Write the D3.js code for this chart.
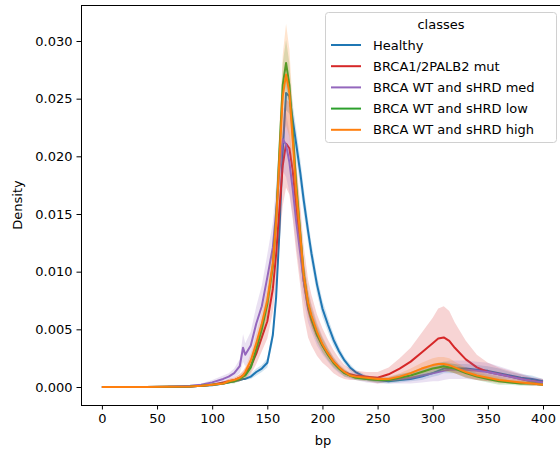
<!DOCTYPE html>
<html>
<head>
<meta charset="utf-8">
<script src="https://cdn.jsdelivr.net/npm/d3@7"></script>
<style>
  body { margin: 0; background: #fff; }
  text { font-family: "DejaVu Sans", sans-serif; }
</style>
</head>
<body>
<div id="chart"></div>
<script>
var svgWidth = 560;
var svgHeight = 450;

// fragment length (bp) sample positions
var bp = [0,20,40,60,80,90,100,110,115,120,125,128,130,135,140,145,150,155,158,
  161,164,167,170,173,176,180,183,187,190,195,200,205,210,215,220,225,230,
  240,250,260,270,280,290,300,305,310,315,320,330,340,350,360,370,380,390,400];

var classes = ["Healthy", "BRCA1/2PALB2 mut", "BRCA WT and sHRD med",
  "BRCA WT and sHRD low", "BRCA WT and sHRD high"];
var colors = ["#1f77b4", "#d62728", "#9467bd", "#2ca02c", "#ff7f0e"];

var healthy = [0,0,0.00001,0.00002,0.00005,0.0001,0.00015,
  0.0003,0.0004,0.0005,0.0006,0.0007,0.0007,0.0009,0.0013,0.0016,0.0021,0.0045,0.0078,
  0.0135,0.0205,0.0255,0.0252,0.0232,0.0212,0.0185,0.0162,0.0135,0.0116,0.0089,0.0068,
  0.0054,0.0041,0.0031,0.0023,0.0017,0.0013,0.0008,0.0006,0.0005,0.0006,0.0007,0.0009,
  0.0012,0.0014,0.0016,0.0016,0.0016,0.0016,0.0015,0.0014,0.0012,0.001,0.0008,0.0007,0.0005];
var healthyCI = [0,0,0,0,0,0,0.00005,
  0.0001,0.0001,0.0001,0.0001,0.0001,0.0001,0.0002,0.0003,0.0003,0.0004,0.0006,0.0008,
  0.001,0.0013,0.0015,0.0015,0.0014,0.0013,0.0012,0.0011,0.001,0.0009,0.0008,0.0007,
  0.0006,0.0005,0.0004,0.0003,0.0003,0.0002,0.0002,0.0002,0.0002,0.0002,0.0002,0.0003,
  0.0003,0.0004,0.0004,0.0004,0.0004,0.0004,0.0004,0.0004,0.0004,0.0003,0.0003,0.0003,0.0002];

var brcaMut = [0,0,0,0.00002,0.00005,0.0001,0.0002,
  0.0004,0.0005,0.0006,0.0008,0.001,0.0012,0.0018,0.0029,0.0043,0.0057,0.0085,0.0115,
  0.0155,0.0192,0.0211,0.0207,0.0188,0.0158,0.0122,0.0092,0.0068,0.0058,0.0045,0.0036,
  0.0029,0.0022,0.0017,0.0013,0.0011,0.001,0.0009,0.0008,0.0011,0.0016,0.0022,0.003,
  0.0038,0.0042,0.0043,0.004,0.0034,0.0024,0.0017,0.0013,0.0011,0.0009,0.0007,0.0005,0.0004];
var brcaMutCI = [0,0,0,0,0,0.00005,0.0001,
  0.0001,0.0002,0.0002,0.0003,0.0004,0.0005,0.0007,0.0009,0.0012,0.0015,0.002,0.0025,
  0.003,0.0035,0.0038,0.004,0.0042,0.004,0.0035,0.003,0.0025,0.0022,0.0018,0.0015,
  0.0012,0.001,0.0008,0.0006,0.0005,0.0004,0.0004,0.0005,0.0006,0.0009,0.0012,0.0017,
  0.0022,0.0026,0.0027,0.0026,0.0022,0.0016,0.0011,0.0008,0.0006,0.0005,0.0004,0.0003,0.0003];

var hrdMed = [0,0,0.00001,0.00003,0.0001,0.0002,0.0004,
  0.0007,0.0009,0.0012,0.0018,0.0034,0.0028,0.0036,0.0055,0.007,0.0095,0.0121,0.0152,
  0.0188,0.0215,0.021,0.0195,0.0172,0.0145,0.0115,0.0092,0.007,0.006,0.0046,0.0036,
  0.0028,0.0021,0.0016,0.0012,0.001,0.0009,0.0007,0.0006,0.0006,0.0007,0.0008,0.001,
  0.0012,0.0013,0.0014,0.0015,0.0015,0.0015,0.0014,0.0013,0.0011,0.0009,0.0007,0.0005,0.0004];
var hrdMedCI = [0,0,0,0,0.00005,0.0001,0.0002,
  0.0003,0.0003,0.0004,0.0006,0.0012,0.001,0.0012,0.0015,0.0018,0.002,0.0022,0.0024,
  0.0026,0.0028,0.0028,0.0026,0.0024,0.0022,0.002,0.0017,0.0014,0.0012,0.001,0.0008,
  0.0006,0.0005,0.0004,0.0003,0.0003,0.0003,0.0003,0.0003,0.0003,0.0004,0.0005,0.0006,
  0.0007,0.0008,0.0008,0.0008,0.0008,0.0008,0.0008,0.0008,0.0007,0.0006,0.0005,0.0004,0.0003];

var hrdLow = [0,0,0,0.00002,0.00005,0.0001,0.0002,
  0.0003,0.0004,0.0005,0.0007,0.0009,0.001,0.0017,0.0033,0.005,0.0072,0.0105,0.0145,
  0.0205,0.0262,0.0281,0.0262,0.0222,0.0178,0.0132,0.0098,0.0072,0.006,0.0046,0.0036,
  0.0028,0.0021,0.0016,0.0012,0.001,0.0008,0.0007,0.0006,0.0006,0.0008,0.001,0.0013,
  0.0016,0.0017,0.0018,0.0017,0.0016,0.0012,0.0009,0.0007,0.0005,0.0004,0.0003,0.0003,0.0002];
var hrdLowCI = [0,0,0,0,0,0.00005,0.0001,
  0.0001,0.0001,0.0002,0.0002,0.0003,0.0003,0.0004,0.0006,0.0008,0.001,0.0012,0.0014,
  0.0016,0.0019,0.002,0.0019,0.0017,0.0015,0.0013,0.0011,0.0009,0.0008,0.0007,0.0006,
  0.0005,0.0004,0.0003,0.0003,0.0002,0.0002,0.0002,0.0002,0.0002,0.0003,0.0003,0.0004,
  0.0004,0.0004,0.0004,0.0004,0.0004,0.0004,0.0003,0.0003,0.0003,0.0002,0.0002,0.0002,0.0001];

var hrdHigh = [0,0,0,0.00002,0.00005,0.0001,0.0002,
  0.0003,0.0005,0.0006,0.0008,0.001,0.0013,0.0023,0.0038,0.0055,0.0075,0.0107,0.0142,
  0.0198,0.0252,0.0271,0.0255,0.0215,0.0172,0.013,0.0097,0.0073,0.0062,0.0048,0.0037,
  0.0029,0.0022,0.0017,0.0013,0.001,0.0009,0.0008,0.0007,0.0007,0.0009,0.0012,0.0016,
  0.0019,0.002,0.002,0.0019,0.0017,0.0013,0.001,0.0008,0.0006,0.0005,0.0004,0.0003,0.0002];
var hrdHighCI = [0,0,0,0,0,0.00005,0.0001,
  0.0001,0.0002,0.0002,0.0003,0.0003,0.0004,0.0006,0.0008,0.001,0.0013,0.0017,0.0022,
  0.0028,0.0036,0.0044,0.0038,0.003,0.0024,0.0018,0.0014,0.0011,0.0009,0.0007,0.0006,
  0.0005,0.0004,0.0003,0.0003,0.0002,0.0002,0.0002,0.0002,0.0002,0.0003,0.0004,0.0005,
  0.0006,0.0006,0.0006,0.0006,0.0005,0.0004,0.0004,0.0003,0.0003,0.0002,0.0002,0.0002,0.0001];

var means = [healthy, brcaMut, hrdMed, hrdLow, hrdHigh];
var cis = [healthyCI, brcaMutCI, hrdMedCI, hrdLowCI, hrdHighCI];

var xTicks = [0, 50, 100, 150, 200, 250, 300, 350, 400];
var yTicks = [0, 0.005, 0.010, 0.015, 0.020, 0.025, 0.030];

var margin = { top: 5, left: 81, right: 0, bottom: 45 };
var plotRight = 565;
var plotBottom = svgHeight - margin.bottom;

var svg = d3.select("#chart")
  .append("svg")
  .attr("width", svgWidth)
  .attr("height", svgHeight);

var xScale = d3.scaleLinear()
  .domain([-18.95, 419.95])
  .range([margin.left, plotRight]);

var yScale = d3.scaleLinear()
  .domain([-0.00156, 0.03312])
  .range([plotBottom, margin.top]);

var plot = svg.append("g");

// confidence bands first, then lines (seaborn draws band + line per hue)
means.forEach(function(m, i) {
  var rows = bp.map(function(b, j) { return { x: b, y: m[j], ci: cis[i][j] }; });

  var area = d3.area()
    .x(d => xScale(d.x))
    .y0(d => yScale(Math.max(0, d.y - d.ci)))
    .y1(d => yScale(d.y + d.ci));

  plot.append("path")
    .datum(rows)
    .attr("d", area)
    .attr("fill", colors[i])
    .attr("fill-opacity", 0.2)
    .attr("stroke", "none");

  var line = d3.line()
    .x(d => xScale(d.x))
    .y(d => yScale(d.y));

  plot.append("path")
    .datum(rows)
    .attr("d", line)
    .attr("fill", "none")
    .attr("stroke", colors[i])
    .attr("stroke-width", 2)
    .attr("stroke-linejoin", "round");
});

// axes
var bottomAxis = d3.axisBottom(xScale)
  .tickValues(xTicks)
  .tickSize(4.5)
  .tickPadding(4)
  .tickFormat(d3.format("d"));

var leftAxis = d3.axisLeft(yScale)
  .tickValues(yTicks)
  .tickSize(4.5)
  .tickPadding(4)
  .tickFormat(d3.format(".3f"));

var xAxis = svg.append("g")
  .attr("transform", `translate(0, ${plotBottom})`)
  .call(bottomAxis);

var yAxis = svg.append("g")
  .attr("transform", `translate(${margin.left}, 0)`)
  .call(leftAxis);

[xAxis, yAxis].forEach(function(ax) {
  ax.select(".domain").remove();
  ax.selectAll("text")
    .attr("font-size", 13)
    .attr("font-family", "DejaVu Sans, sans-serif")
    .attr("fill", "#000");
  ax.selectAll("line").attr("stroke", "#000").attr("stroke-width", 1);
});

// frame
svg.append("rect")
  .attr("x", margin.left + 0.5)
  .attr("y", margin.top + 0.5)
  .attr("width", plotRight - margin.left)
  .attr("height", plotBottom - margin.top)
  .attr("fill", "none")
  .attr("stroke", "#000")
  .attr("stroke-width", 1);

svg.append("text")
  .attr("x", (margin.left + plotRight) / 2)
  .attr("y", 445)
  .attr("text-anchor", "middle")
  .attr("font-size", 13)
  .text("bp");

svg.append("text")
  .attr("transform", `translate(22, ${(margin.top + plotBottom) / 2}) rotate(-90)`)
  .attr("text-anchor", "middle")
  .attr("font-size", 13)
  .text("Density");

// legend
var legend = svg.append("g");

legend.append("rect")
  .attr("x", 325.5)
  .attr("y", 12.5)
  .attr("width", 231)
  .attr("height", 130)
  .attr("rx", 3)
  .attr("fill", "#fff")
  .attr("fill-opacity", 0.8)
  .attr("stroke", "#d0d0d0")
  .attr("stroke-width", 1);

legend.append("text")
  .attr("x", 441)
  .attr("y", 29)
  .attr("text-anchor", "middle")
  .attr("font-size", 13)
  .text("classes");

classes.forEach(function(c, i) {
  var cy = 45 + i * 21.2;
  legend.append("line")
    .attr("x1", 331).attr("x2", 361)
    .attr("y1", cy).attr("y2", cy)
    .attr("stroke", colors[i])
    .attr("stroke-width", 2);
  legend.append("text")
    .attr("x", 373)
    .attr("y", cy + 4.5)
    .attr("font-size", 13)
    .text(c);
});
</script>
</body>
</html>
